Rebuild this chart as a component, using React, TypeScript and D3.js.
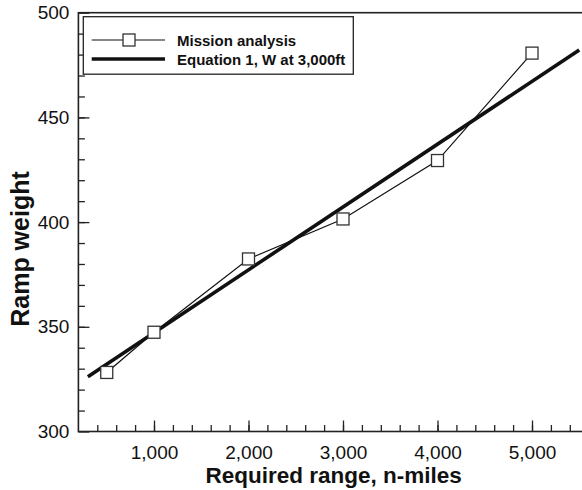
import React, { useEffect, useRef } from 'react'
import * as d3 from 'd3'

// mission analysis points
const rangeNm = [500, 1000, 2000, 3000, 4000, 5000]
const missionWeight = [328.2, 347.4, 382.4, 401.5, 429.4, 480.7]

// equation 1 line, end points
const eqRange = [300, 5500]
const eqWeight = [326.2, 482.2]

const xTicks = [1000, 2000, 3000, 4000, 5000]
const yTicks = [300, 350, 400, 450, 500]

const legendLabels = ['Mission analysis', 'Equation 1, W at 3,000ft']

const FONT = '"Liberation Sans", Arial, Helvetica, sans-serif'

export default function App() {
    const ref = useRef<SVGSVGElement>(null)

    useEffect(() => {
        const margin = { top: 12.7, left: 78.4, bottom: 431.5, right: 588.7 }

        const svg = d3.select(ref.current)
        svg.selectAll('*').remove()

        const x = d3.scaleLinear().domain([200, 5600]).range([margin.left, margin.right])
        const y = d3.scaleLinear().domain([300, 500]).range([margin.bottom, margin.top])

        const ink = '#222'

        // minor ticks
        svg.append('g')
            .attr('transform', `translate(0, ${margin.bottom})`)
            .call(d3.axisBottom(x).tickValues(d3.range(400, 5600, 200)).tickSize(-6.5).tickSizeOuter(0).tickFormat(() => ''))
        svg.append('g')
            .attr('transform', `translate(${margin.left}, 0)`)
            .call(d3.axisLeft(y).tickValues(d3.range(310, 500, 10)).tickSize(-6.5).tickSizeOuter(0).tickFormat(() => ''))

        // major ticks + labels
        const xAxisGroup = svg.append('g')
            .attr('transform', `translate(0, ${margin.bottom})`)
            .call(d3.axisBottom(x).tickValues(xTicks).tickSize(-11).tickSizeOuter(0).tickPadding(14.5).tickFormat(d3.format(',')))
        const yAxisGroup = svg.append('g')
            .attr('transform', `translate(${margin.left}, 0)`)
            .call(d3.axisLeft(y).tickValues(yTicks).tickSize(-11).tickSizeOuter(0).tickPadding(9))

        svg.selectAll('.domain').remove()
        svg.selectAll('.tick line').attr('stroke', ink).attr('stroke-width', 1.3)
        xAxisGroup.selectAll('text').attr('font-size', 19).attr('font-family', FONT).attr('fill', '#111')
        yAxisGroup.selectAll('text').attr('font-size', 19).attr('font-family', FONT).attr('fill', '#111')

        // frame
        svg.append('rect')
            .attr('x', margin.left)
            .attr('y', margin.top)
            .attr('width', margin.right - margin.left)
            .attr('height', margin.bottom - margin.top)
            .attr('fill', 'none')
            .attr('stroke', ink)
            .attr('stroke-width', 1.6)

        // equation line
        const line = d3.line<number>()
            .x((d, i) => x(eqRange[i]))
            .y(d => y(d))
        svg.append('path')
            .datum(eqWeight)
            .attr('fill', 'none')
            .attr('stroke', '#111')
            .attr('stroke-width', 3.6)
            .attr('d', line)

        // mission line
        const mLine = d3.line<number>()
            .x((d, i) => x(rangeNm[i]))
            .y(d => y(d))
        svg.append('path')
            .datum(missionWeight)
            .attr('fill', 'none')
            .attr('stroke', '#111')
            .attr('stroke-width', 1.2)
            .attr('d', mLine)

        const sq = 12
        svg.selectAll('rect.pt')
            .data(missionWeight)
            .enter()
            .append('rect')
            .attr('class', 'pt')
            .attr('x', (d, i) => x(rangeNm[i]) - sq / 2)
            .attr('y', d => y(d) - sq / 2)
            .attr('width', sq)
            .attr('height', sq)
            .attr('fill', 'white')
            .attr('stroke', '#333')
            .attr('stroke-width', 1.3)

        // legend
        const lg = svg.append('g')
        lg.append('rect')
            .attr('x', 83.3).attr('y', 16.7)
            .attr('width', 270).attr('height', 57.5)
            .attr('fill', 'white')
            .attr('stroke', ink)
            .attr('stroke-width', 1.3)
        lg.append('line')
            .attr('x1', 91.7).attr('x2', 165).attr('y1', 40).attr('y2', 40)
            .attr('stroke', '#111').attr('stroke-width', 1.2)
        lg.append('rect')
            .attr('x', 129 - sq / 2).attr('y', 40 - sq / 2)
            .attr('width', sq).attr('height', sq)
            .attr('fill', 'white').attr('stroke', '#333').attr('stroke-width', 1.3)
        lg.append('line')
            .attr('x1', 91.7).attr('x2', 165).attr('y1', 59).attr('y2', 59)
            .attr('stroke', '#111').attr('stroke-width', 3.6)
        lg.selectAll('text')
            .data(legendLabels)
            .enter()
            .append('text')
            .attr('x', 177)
            .attr('y', (d, i) => 45.5 + i * 19)
            .attr('font-family', FONT)
            .attr('font-weight', 'bold')
            .attr('font-size', 15)
            .attr('fill', '#111')
            .text(d => d)

        // axis titles
        svg.append('text')
            .attr('x', (margin.left + margin.right) / 2)
            .attr('y', 483)
            .attr('text-anchor', 'middle')
            .attr('font-family', FONT)
            .attr('font-weight', 'bold')
            .attr('font-size', 22.5)
            .attr('fill', '#111')
            .text('Required range, n-miles')

        svg.append('text')
            .attr('transform', `translate(28.5, 249) rotate(-90)`)
            .attr('text-anchor', 'middle')
            .attr('font-family', FONT)
            .attr('font-weight', 'bold')
            .attr('font-size', 25)
            .attr('fill', '#111')
            .text('Ramp weight')
    }, [])

    return (
        <div style={{ position: 'absolute', left: 0, top: 0 }}>
            <svg ref={ref} width={582} height={490} style={{ display: 'block', background: 'white' }} />
        </div>
    )
}
